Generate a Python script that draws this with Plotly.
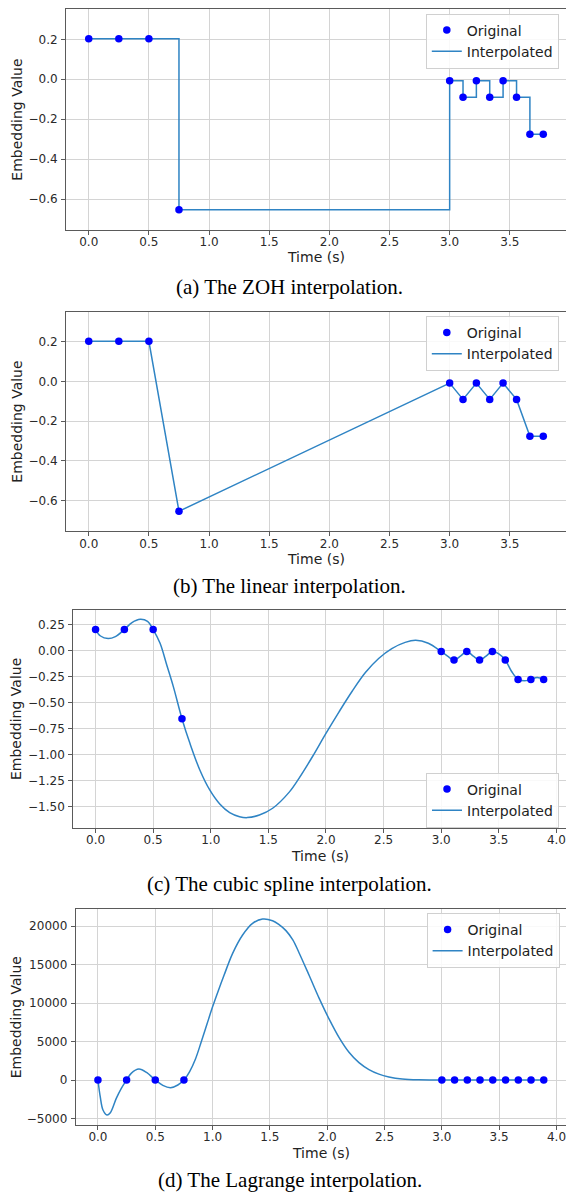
import plotly.graph_objects as go

# ---------------- data ----------------
t_orig_ab = [0.0, 0.25, 0.5, 0.75, 3.0, 3.111, 3.222, 3.333, 3.444, 3.556, 3.667, 3.778]
v_orig_ab = [0.203, 0.203, 0.203, -0.654, -0.008, -0.09, -0.008, -0.09, -0.008, -0.09, -0.276, -0.276]

t_orig_cd = [0.0, 0.25, 0.5, 0.75, 3.0, 3.111, 3.222, 3.333, 3.444, 3.556, 3.667, 3.778, 3.889]
v_orig_cd = [0.203, 0.203, 0.203, -0.654, -0.008, -0.09, -0.008, -0.09, -0.008, -0.09, -0.276, -0.276, -0.276]
v_orig_d = [0, 0, 0, 0, 0, 0, 0, 0, 0, 0, 0, 0, 0]

# cubic spline curve
t_spline = [0.0, 0.043, 0.109, 0.172, 0.25, 0.316, 0.388, 0.451, 0.5, 0.56, 0.618, 0.675, 0.75,
            0.819, 0.905, 0.991, 1.078, 1.164, 1.25, 1.316, 1.422, 1.537, 1.681, 1.767, 1.882,
            1.997, 2.112, 2.227, 2.342, 2.457, 2.571, 2.687, 2.779, 2.888, 3.0, 3.055, 3.111,
            3.167, 3.222, 3.278, 3.333, 3.389, 3.444, 3.5, 3.556, 3.611, 3.667, 3.722, 3.778,
            3.833, 3.889]
v_spline = [0.203, 0.141, 0.116, 0.135, 0.203, 0.27, 0.302, 0.282, 0.203, 0.071, -0.138, -0.346, -0.654,
            -0.891, -1.147, -1.339, -1.474, -1.557, -1.596, -1.605, -1.58, -1.515, -1.36, -1.225, -1.02,
            -0.8, -0.59, -0.39, -0.21, -0.075, 0.02, 0.08, 0.1, 0.071, -0.008, -0.052, -0.09,
            -0.052, -0.008, -0.052, -0.09, -0.052, -0.008, -0.03, -0.09, -0.2, -0.276, -0.29, -0.276,
            -0.258, -0.276]

# Lagrange curve
t_lagr = [0.0, 0.02, 0.044, 0.079, 0.108, 0.16, 0.204, 0.25, 0.29, 0.357, 0.427, 0.5, 0.566, 0.633,
          0.697, 0.75, 0.8, 0.85, 0.9, 0.95, 1.0, 1.05, 1.1, 1.175, 1.262, 1.349, 1.436, 1.523, 1.58,
          1.64, 1.7, 1.755, 1.842, 1.93, 2.017, 2.104, 2.19, 2.277, 2.364, 2.451, 2.538, 2.654, 2.8,
          3.0, 3.444, 3.889]
v_lagr = [0, -2165, -3896, -4545, -4242, -2381, -1082, 0, 866, 1429, 952, 0, -693, -996,
          -649, 0, 1100, 2700, 4900, 7200, 9500, 11600, 13600, 16450, 18831, 20346, 20909, 20692, 20170,
          19400, 18200, 16500, 13600, 10600, 7900, 5500, 3600, 2250, 1350, 760, 400, 130, 20,
          0, 0, 0]

x_tick_vals = [0.0, 0.5, 1.0, 1.5, 2.0, 2.5, 3.0, 3.5, 4.0]
x_tick_text = ["0.0", "0.5", "1.0", "1.5", "2.0", "2.5", "3.0", "3.5", "4.0"]
y_tick_vals_ab = [-0.6, -0.4, -0.2, 0.0, 0.2]
y_tick_text_ab = ["\u22120.6", "\u22120.4", "\u22120.2", "0.0", "0.2"]
y_tick_vals_c = [-1.5, -1.25, -1.0, -0.75, -0.5, -0.25, 0.0, 0.25]
y_tick_text_c = ["\u22121.50", "\u22121.25", "\u22121.00", "\u22120.75", "\u22120.50", "\u22120.25", "0.00", "0.25"]
y_tick_vals_d = [-5000, 0, 5000, 10000, 15000, 20000]
y_tick_text_d = ["\u22125000", "0", "5000", "10000", "15000", "20000"]

captions = ["(a) The ZOH interpolation.", "(b) The linear interpolation.",
            "(c) The cubic spline interpolation.", "(d) The Lagrange interpolation."]

# ---------------- figure ----------------
W, H = 566, 1192
LINE_C = "#2f84c4"
DOT_C = "#0000ff"

fig = go.Figure()

panels = [
    dict(t_line=t_orig_ab, v_line=v_orig_ab, shape="hv", t_pts=t_orig_ab, v_pts=v_orig_ab),
    dict(t_line=t_orig_ab, v_line=v_orig_ab, shape="linear", t_pts=t_orig_ab, v_pts=v_orig_ab),
    dict(t_line=t_spline, v_line=v_spline, shape="spline", t_pts=t_orig_cd, v_pts=v_orig_cd),
    dict(t_line=t_lagr, v_line=v_lagr, shape="spline", t_pts=t_orig_cd, v_pts=v_orig_d),
]

# pixel geometry of each plot area: (left, top, bottom)
geo = [(66, 9, 230), (66, 311.7, 531.3), (73.2, 610, 827.7), (75.7, 909.3, 1125)]
xranges = [[-0.189, 3.967], [-0.189, 3.967], [-0.194, 4.083], [-0.194, 4.083]]
yranges = [[-0.755, 0.352], [-0.755, 0.352], [-1.702, 0.391], [-5844, 22170]]
yticks = [(y_tick_vals_ab, y_tick_text_ab), (y_tick_vals_ab, y_tick_text_ab),
          (y_tick_vals_c, y_tick_text_c), (y_tick_vals_d, y_tick_text_d)]
legend_pos = [(558.8, 13.5), (558.8, 316), (559, 772.5), (559.6, 913)]
caption_y = [286.7, 586, 884, 1180]
xtitle_y = [256.7, 559.3, 855.7, 1152.7]

axis_common = dict(
    showline=True, mirror=True, linecolor="#5a5a5a", linewidth=1,
    showgrid=True, gridcolor="#d4d4d4", gridwidth=1, zeroline=False,
    ticks="outside", ticklen=4, tickwidth=1, tickcolor="#5a5a5a",
    tickfont=dict(family="DejaVu Sans", size=12, color="#2a2a2a"),
    ticklabeloverflow="allow",
)

annotations = []
for i, p in enumerate(panels):
    n = "" if i == 0 else str(i + 1)
    leg = "legend" if i == 0 else "legend" + str(i + 1)
    xa, ya = "x" + n, "y" + n
    fig.add_trace(go.Scatter(
        x=p["t_line"], y=p["v_line"], mode="lines", name="Interpolated",
        line=dict(color=LINE_C, width=1.5, shape=p["shape"]),
        xaxis=xa, yaxis=ya, legend=leg, legendrank=2, showlegend=True))
    fig.add_trace(go.Scatter(
        x=p["t_pts"], y=p["v_pts"], mode="markers", name="Original",
        marker=dict(color=DOT_C, size=7.5),
        xaxis=xa, yaxis=ya, legend=leg, legendrank=1, showlegend=True))

    left, top, bottom = geo[i]
    fig.layout["xaxis" + n] = dict(
        axis_common, domain=[left / W, 1.0], range=xranges[i], anchor=ya,
        tickvals=x_tick_vals, ticktext=x_tick_text, ticklabelstandoff=-3)
    fig.layout["yaxis" + n] = dict(
        axis_common, domain=[1 - bottom / H, 1 - top / H], range=yranges[i], anchor=xa,
        tickvals=yticks[i][0], ticktext=yticks[i][1], ticklabelstandoff=1)

    lx, ly = legend_pos[i]
    fig.layout[leg] = dict(
        x=lx / W, y=1 - ly / H, xanchor="right", yanchor="top",
        bgcolor="rgba(255,255,255,0.85)", bordercolor="#d0d0d0", borderwidth=1,
        font=dict(family="DejaVu Sans", size=14, color="#222"),
        traceorder="normal", itemwidth=30)

    # axis titles
    cx = (left + W) / 2
    annotations.append(dict(
        text="Time (s)", x=cx / W, y=1 - xtitle_y[i] / H, xref="paper", yref="paper",
        xanchor="center", yanchor="middle", showarrow=False,
        font=dict(family="DejaVu Sans", size=14, color="#222")))
    annotations.append(dict(
        text="Embedding Value", x=16.2 / W, y=1 - (top + bottom) / 2 / H, xref="paper", yref="paper",
        xanchor="center", yanchor="middle", showarrow=False, textangle=-90,
        font=dict(family="DejaVu Sans", size=14, color="#222")))
    # caption
    annotations.append(dict(
        text=captions[i], x=289.5 / W, y=1 - caption_y[i] / H, xref="paper", yref="paper",
        xanchor="center", yanchor="middle", showarrow=False,
        font=dict(family="Liberation Serif", size=21, color="#000")))

fig.update_layout(
    width=W, height=H, margin=dict(l=0, r=0, t=0, b=0),
    paper_bgcolor="white", plot_bgcolor="white",
    annotations=annotations, showlegend=True,
)

fig.write_html("out.html", config={"displayModeBar": False},
               post_script="document.body.style.margin='0px';")
